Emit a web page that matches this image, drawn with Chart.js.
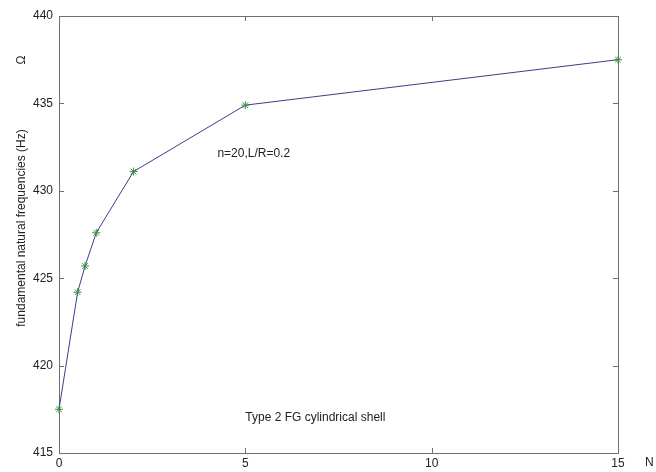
<!DOCTYPE html>
<html>
<head>
<meta charset="utf-8">
<script src="https://cdn.jsdelivr.net/npm/chart.js@4"></script>
<style>
  body { margin: 0; background: #fff; }
  canvas { display: block; }
</style>
</head>
<body>
<canvas id="chart" width="656" height="472"></canvas>
<script>
// volume fraction exponent N and fundamental frequency (Hz)
var nValues = [0, 0.5, 0.7, 1, 2, 5, 15];
var freqValues = [417.5, 424.2, 425.7, 427.6, 431.1, 434.9, 437.5];
var xTicks = [0, 5, 10, 15];
var yTicks = [415, 420, 425, 430, 435, 440];

var FONT = "'Liberation Sans', Arial, sans-serif";

// matlab style box with inward ticks + loose text
var matlabFrame = {
    id: 'matlabFrame',
    beforeDatasetsDraw: function (chart) {
        var ctx = chart.ctx;
        var a = chart.chartArea;
        var xs = chart.scales.x, ys = chart.scales.y;
        ctx.save();
        ctx.strokeStyle = '#707070';
        ctx.lineWidth = 1;
        ctx.strokeRect(a.left + 0.5, a.top + 0.5, a.right - a.left, a.bottom - a.top);
        ctx.beginPath();
        xTicks.forEach(function (v) {
            var px = Math.round(xs.getPixelForValue(v)) + 0.5;
            ctx.moveTo(px, a.bottom); ctx.lineTo(px, a.bottom - 5);
            ctx.moveTo(px, a.top); ctx.lineTo(px, a.top + 5);
        });
        yTicks.forEach(function (v) {
            var py = Math.round(ys.getPixelForValue(v)) + 0.5;
            ctx.moveTo(a.left, py); ctx.lineTo(a.left + 5, py);
            ctx.moveTo(a.right, py); ctx.lineTo(a.right - 5, py);
        });
        ctx.stroke();
        ctx.restore();
    },
    afterDraw: function (chart) {
        var ctx = chart.ctx;
        var xs = chart.scales.x, ys = chart.scales.y;
        ctx.save();
        ctx.fillStyle = '#222';
        ctx.font = '12px ' + FONT;
        ctx.textBaseline = 'middle';
        ctx.textAlign = 'left';
        ctx.fillText('n=20,L/R=0.2', xs.getPixelForValue(4.25), ys.getPixelForValue(432.15));
        ctx.fillText('Type 2 FG cylindrical shell', xs.getPixelForValue(5.0), ys.getPixelForValue(417.0));
        ctx.fillText('N', 645, 463);

        ctx.save();
        ctx.translate(22, 228);
        ctx.rotate(-Math.PI / 2);
        ctx.textAlign = 'center';
        ctx.fillText('fundamental natural frequencies (Hz)', 0, 0);
        ctx.restore();
        ctx.save();
        ctx.translate(22, 60);
        ctx.rotate(-Math.PI / 2);
        ctx.textAlign = 'center';
        ctx.fillText('\u03A9', 0, 0);
        ctx.restore();
        ctx.restore();
    }
};

var points = nValues.map(function (n, i) { return { x: n, y: freqValues[i] }; });

new Chart(document.getElementById('chart'), {
    type: 'scatter',
    data: {
        datasets: [{
            data: points,
            showLine: true,
            clip: false,
            borderColor: '#3a3f86',
            borderWidth: 1,
            pointStyle: 'star',
            pointRadius: 4,
            pointBorderColor: '#3d8f3d',
            pointBorderWidth: 1,
            pointBackgroundColor: '#3d8f3d',
            tension: 0
        }]
    },
    options: {
        responsive: false,
        animation: false,
        layout: { padding: { top: 16, right: 38, left: 0, bottom: 0 } },
        plugins: {
            legend: { display: false },
            tooltip: { enabled: false }
        },
        scales: {
            x: {
                type: 'linear',
                min: 0,
                max: 15,
                afterBuildTicks: function (s) { s.ticks = xTicks.map(function (v) { return { value: v }; }); },
                afterFit: function (s) { s.height = 19; },
                grid: { display: false, drawTicks: false },
                border: { display: false },
                ticks: { padding: 3, color: '#222', font: { family: FONT, size: 12 }, maxRotation: 0 }
            },
            y: {
                type: 'linear',
                min: 415,
                max: 440,
                afterBuildTicks: function (s) { s.ticks = yTicks.map(function (v) { return { value: v }; }); },
                afterFit: function (s) { s.width = 59; },
                grid: { display: false, drawTicks: false },
                border: { display: false },
                ticks: { padding: 6, color: '#222', font: { family: FONT, size: 12 } }
            }
        }
    },
    plugins: [matlabFrame]
});
</script>
</body>
</html>
